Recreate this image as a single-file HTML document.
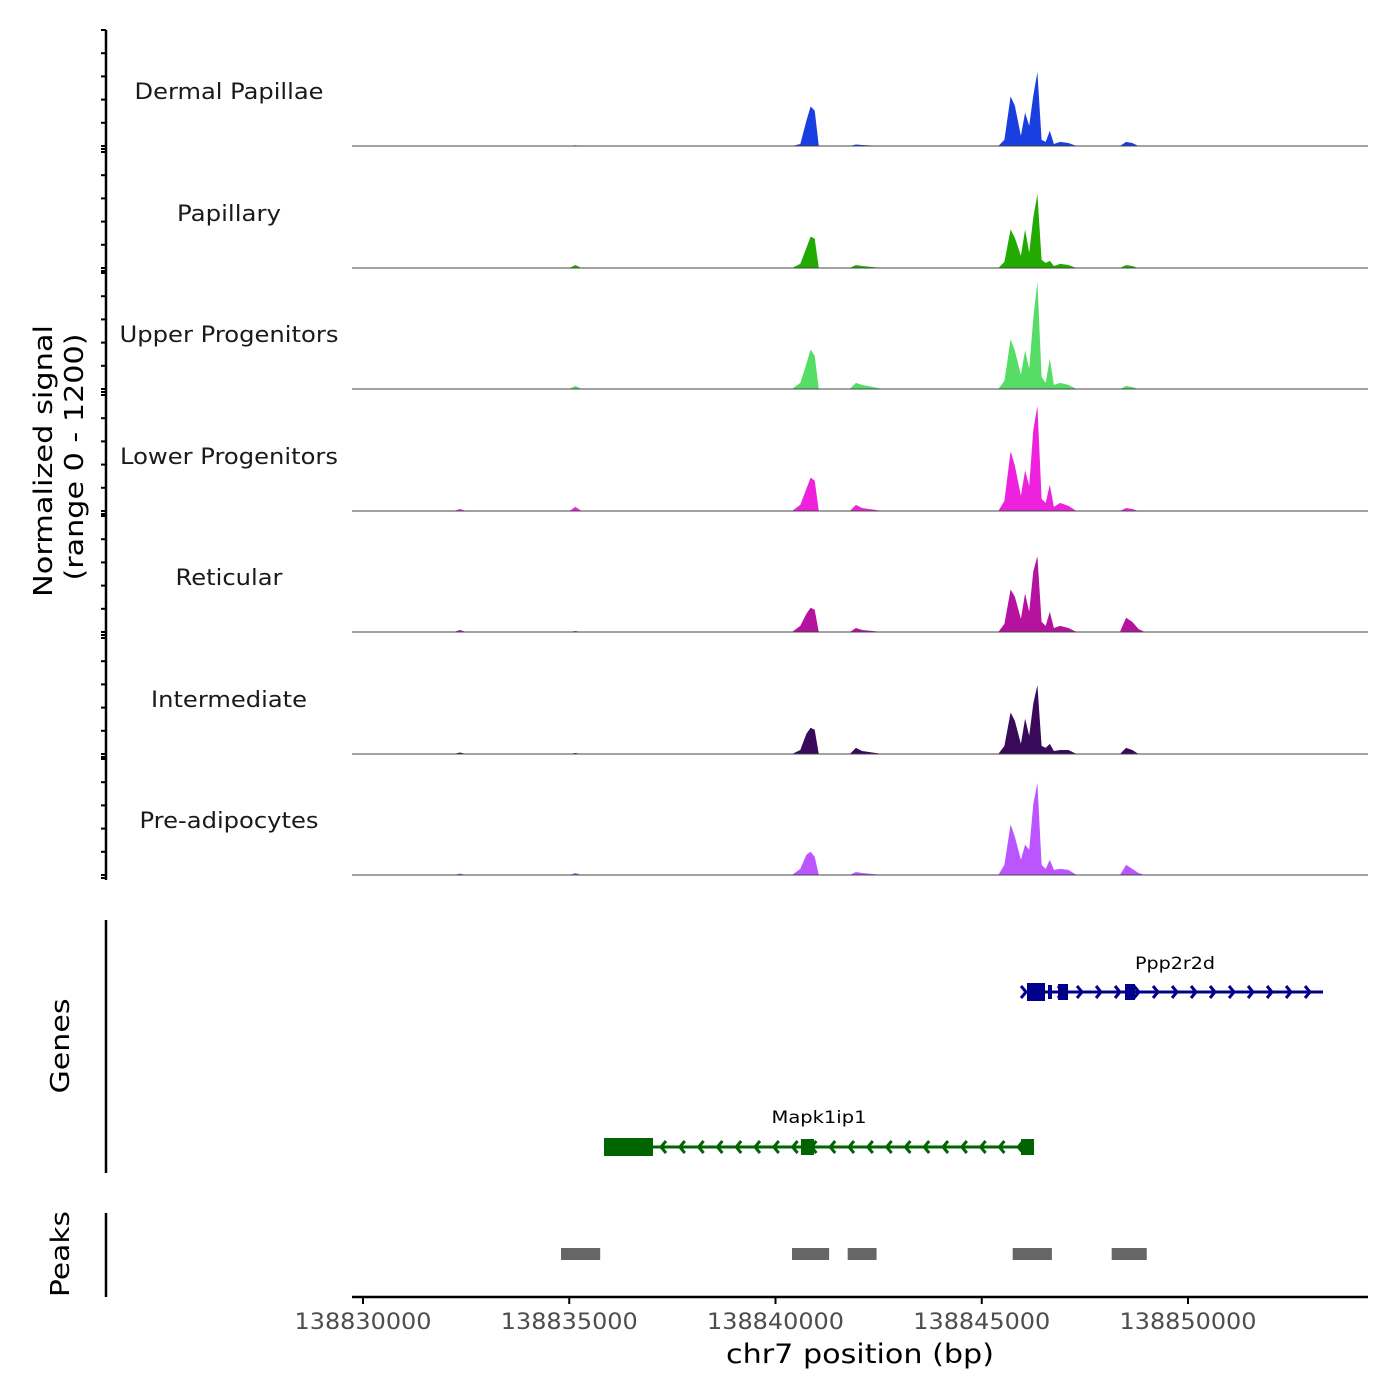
<!DOCTYPE html>
<html><head><meta charset="utf-8"><style>
body{margin:0;background:#fff}
svg{display:block;font-family:"DejaVu Sans","Liberation Sans",sans-serif}
</style></head><body>
<svg id="chart" width="1400" height="1400" viewBox="0 0 1400 1400" xmlns="http://www.w3.org/2000/svg"></svg>
<script>
// ---- data ----
const trackNames = ["Dermal Papillae","Papillary","Upper Progenitors","Lower Progenitors","Reticular","Intermediate","Pre-adipocytes"];
const trackColors = ["#1a3fe0","#22aa00","#55dd66","#ee22dd","#b5129f","#3a0a5a","#bb55ff"];
const labelWidths = [189,104,219,218,107,156,179];
// positions in kb offset from 138830000
const positions = [-0.3,2.2,2.35,2.5,5.0,5.15,5.3,10.4,10.6,10.75,10.85,10.95,11.05,11.2,11.8,11.95,12.1,12.6,15.4,15.55,15.7,15.8,15.95,16.05,16.15,16.25,16.35,16.45,16.55,16.65,16.75,16.9,17.1,17.3,18.35,18.5,18.65,18.8,18.95,24.4];
const sigDermal  = [0,0,5,0,0,8,0,0,20,250,390,350,0,0,0,15,10,0,0,60,490,400,100,330,200,500,730,60,40,150,20,40,30,0,0,40,30,0,0,0];
const sigPapill  = [0,0,5,0,0,30,0,0,40,200,310,290,0,0,0,30,20,0,0,60,380,300,120,380,150,500,730,80,50,70,20,40,30,0,0,30,20,0,0,0];
const sigUpper   = [0,0,5,0,0,30,0,0,60,250,390,330,0,0,0,60,40,0,0,80,490,380,140,380,200,700,1060,120,60,300,40,60,40,0,0,30,20,0,0,0];
const sigLower   = [0,0,20,0,0,40,0,0,60,220,330,300,0,0,0,60,30,0,0,100,590,450,150,400,250,800,1040,120,80,260,40,80,50,0,0,30,20,0,0,0];
const sigRetic   = [0,0,20,0,0,10,0,0,60,180,240,220,0,0,0,40,20,0,0,80,420,350,130,380,200,600,750,100,60,200,40,60,40,0,0,140,100,30,0,0];
const sigInter   = [0,0,15,0,0,10,0,0,40,200,260,240,0,0,0,60,30,0,0,80,410,330,100,350,180,500,680,80,60,100,30,40,40,0,0,60,40,0,0,0];
const sigPreadip = [0,0,15,0,0,20,0,0,60,200,230,180,0,0,0,30,20,0,0,100,500,380,150,300,250,700,910,100,60,150,50,60,50,0,0,100,60,20,0,0];
const signals = [sigDermal,sigPapill,sigUpper,sigLower,sigRetic,sigInter,sigPreadip];
const xTicks = [138830000,138835000,138840000,138845000,138850000];
const peakStarts = [138834800,138840400,138841750,138845750,138848150];
const peakEnds   = [138835750,138841300,138842450,138846700,138849000];

// ---- scales ----
const X0=138830000, PX0=363, PPK=41.25/1000;
const xs = bp => PX0 + (bp - X0)*PPK;
const baselines = [146,268,389,511,632,754,875];
const TH = 121.5;
const ys = (v,i) => baselines[i] - v/1200*TH;

const NS="http://www.w3.org/2000/svg";
const svg=document.getElementById('chart');
function mk(tag,attrs,parent){const e=document.createElementNS(NS,tag);for(const k in attrs)e.setAttribute(k,attrs[k]);(parent||svg).appendChild(e);return e;}

// left signal axis
mk('line',{x1:106,y1:30,x2:106,y2:880,stroke:'#000','stroke-width':2.5});
baselines.forEach((b,i)=>{for(let k=0;k<6;k++){const y=b-k*23.2;if(y<28)continue;mk('line',{x1:101,y1:y,x2:106,y2:y,stroke:'#000','stroke-width':2});}mk('line',{x1:101,y1:b+3,x2:106,y2:b+3,stroke:'#000','stroke-width':2});});
let yt=mk('text',{x:0,y:0,'font-size':26,'text-anchor':'middle',textLength:272,lengthAdjust:'spacingAndGlyphs',transform:'translate(52,461) rotate(-90)'});
yt.textContent='Normalized signal';


let yt2=mk('text',{x:0,y:0,'font-size':26,'text-anchor':'middle',textLength:247,lengthAdjust:'spacingAndGlyphs',transform:'translate(83,457) rotate(-90)'});
yt2.textContent='(range 0 - 1200)';



// tracks
signals.forEach((s,i)=>{
  const g=mk('g',{});
  
  
  let d='M352,'+baselines[i];
  positions.forEach((p,j)=>{d+=' L'+xs(X0+p*1000).toFixed(1)+','+ys(s[j],i).toFixed(1);});
  d+=' L1368,'+baselines[i]+' Z';
  const a=mk('path',{d:d,fill:trackColors[i]},g);
  
  
  mk('line',{x1:352,y1:baselines[i],x2:1368,y2:baselines[i],stroke:'#444','stroke-width':1},g);
  const t=mk('text',{x:229,y:baselines[i]-47,'font-size':22,'text-anchor':'middle',fill:'#1a1a1a',textLength:labelWidths[i],lengthAdjust:'spacingAndGlyphs'},g);
  t.textContent=trackNames[i];
  
  
});

// genes
mk('line',{x1:106,y1:920,x2:106,y2:1173,stroke:'#000','stroke-width':2.5});
let gl=mk('text',{x:0,y:0,'font-size':26,'text-anchor':'middle',textLength:95,lengthAdjust:'spacingAndGlyphs',transform:'translate(69,1046) rotate(-90)'});
gl.textContent='Genes';


const gp=mk('g',{});


mk('line',{x1:1024,y1:992,x2:1323,y2:992,stroke:'#00008b','stroke-width':3},gp);
for(let x=1044;x<=1325;x+=19){mk('polyline',{points:(x-5)+',986 '+x+',992 '+(x-5)+',998',fill:'none',stroke:'#00008b','stroke-width':3},gp);}
mk('polyline',{points:'1021,986 1026,992 1021,998',fill:'none',stroke:'#00008b','stroke-width':3},gp);
[[1027,1045,18],[1048,1052,14],[1058,1068,16],[1125,1135,16]].forEach(e=>mk('rect',{x:e[0],y:992-e[2]/2,width:e[1]-e[0],height:e[2],fill:'#00008b'},gp));
let t1=mk('text',{x:1175,y:969,'font-size':17,'text-anchor':'middle',textLength:80,lengthAdjust:'spacingAndGlyphs'},gp);t1.textContent='Ppp2r2d';
const gm=mk('g',{});


mk('line',{x1:604,y1:1147,x2:1034,y2:1147,stroke:'#006400','stroke-width':3},gm);
for(let x=661;x<1020;x+=18.8){mk('polyline',{points:(x+5)+',1141 '+x+',1147 '+(x+5)+',1153',fill:'none',stroke:'#006400','stroke-width':3},gm);}
[[604,653,18],[801,814,16],[1021,1034,16]].forEach(e=>mk('rect',{x:e[0],y:1147-e[2]/2,width:e[1]-e[0],height:e[2],fill:'#006400'},gm));
let t2=mk('text',{x:819,y:1123,'font-size':17,'text-anchor':'middle',textLength:95,lengthAdjust:'spacingAndGlyphs'},gm);t2.textContent='Mapk1ip1';

// peaks
mk('line',{x1:106,y1:1213,x2:106,y2:1297,stroke:'#000','stroke-width':2.5});
let pl=mk('text',{x:0,y:0,'font-size':26,'text-anchor':'middle',textLength:86,lengthAdjust:'spacingAndGlyphs',transform:'translate(69,1254) rotate(-90)'});
pl.textContent='Peaks';


peakStarts.forEach((s,i)=>{
  const r=mk('rect',{x:xs(s),y:1248,width:xs(peakEnds[i])-xs(s),height:12,fill:'#666'});
  
  
});

// x axis
mk('line',{x1:352,y1:1297,x2:1368,y2:1297,stroke:'#000','stroke-width':2.5});
xTicks.forEach(v=>{
  mk('line',{x1:xs(v),y1:1297,x2:xs(v),y2:1304,stroke:'#000','stroke-width':2});
  const t=mk('text',{x:xs(v),y:1329,'font-size':22,'text-anchor':'middle',fill:'#4d4d4d',textLength:137,lengthAdjust:'spacingAndGlyphs'});
  t.textContent=String(v);
  
  
});
let xt=mk('text',{x:860,y:1363,'font-size':27,'text-anchor':'middle',textLength:268,lengthAdjust:'spacingAndGlyphs'});
xt.textContent='chr7 position (bp)';


</script>
</body></html>
